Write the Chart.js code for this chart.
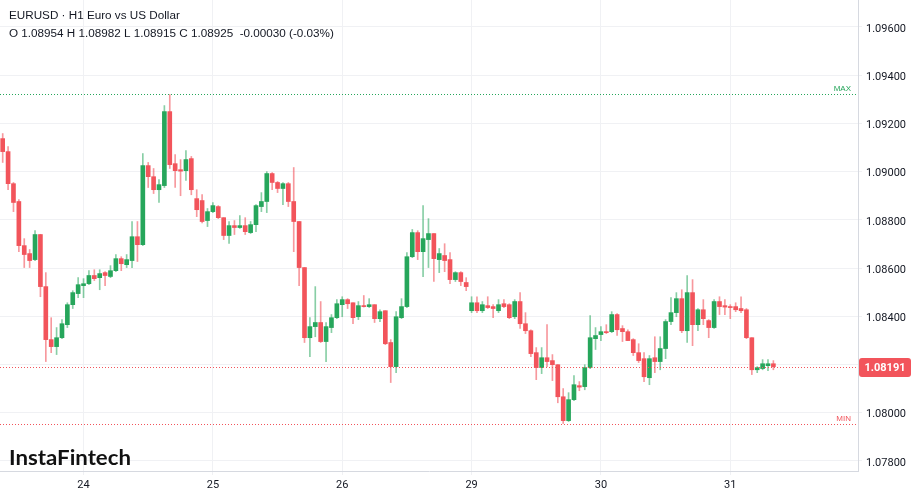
<!DOCTYPE html>
<html><head><meta charset="utf-8">
<script src="https://cdn.jsdelivr.net/npm/chart.js@4.4.1/dist/chart.umd.min.js"></script>
<style>html,body{margin:0;padding:0;background:#fff;}canvas{display:block}</style>
</head><body>
<canvas id="c" width="912" height="494" style="width:912px;height:494px"></canvas>
<script>
// ---- data (hourly candles, EURUSD H1) ----
const openP = [
1.09137,1.09083,1.08950,1.08876,1.08693,1.08660,1.08635,1.08739,1.08523,1.08303,
1.08274,1.08311,1.08365,1.08448,1.08494,1.08527,1.08535,1.08569,1.08560,1.08581,
1.08565,1.08589,1.08639,1.08614,1.08631,1.08730,1.08697,1.09025,1.08979,1.08925,
1.08942,1.09249,1.09033,1.09008,1.09004,1.09054,1.08888,1.08880,1.08797,1.08834,
1.08855,1.08809,1.08735,1.08776,1.08768,1.08776,1.08747,1.08780,1.08855,1.08876,
1.08992,1.08955,1.08930,1.08950,1.08876,1.08793,1.08602,1.08311,1.08357,1.08374,
1.08295,1.08353,1.08394,1.08448,1.08469,1.08456,1.08398,1.08444,1.08440,1.08448,
1.08390,1.08423,1.08291,1.08191,1.08394,1.08440,1.08647,1.08747,1.08668,1.08718,
1.08743,1.08635,1.08652,1.08635,1.08552,1.08581,1.08540,1.08423,1.08456,1.08423,
1.08444,1.08440,1.08423,1.08452,1.08448,1.08398,1.08461,1.08369,1.08340,1.08249,
1.08187,1.08228,1.08216,1.08199,1.08066,1.07967,1.08054,1.08112,1.08108,1.08187,
1.08307,1.08324,1.08336,1.08336,1.08407,1.08349,1.08336,1.08303,1.08249,1.08224,
1.08145,1.08228,1.08212,1.08266,1.08378,1.08415,1.08473,1.08340,1.08498,1.08365,
1.08427,1.08382,1.08353,1.08461,1.08444,1.08440,1.08440,1.08432,1.08427,1.08311,
1.08178,1.08183,1.08195,1.08203];
const highP = [
1.09158,1.09104,1.08955,1.08884,1.08722,1.08677,1.08755,1.08740,1.08581,1.08394,
1.08353,1.08386,1.08456,1.08506,1.08560,1.08556,1.08589,1.08593,1.08593,1.08585,
1.08610,1.08656,1.08647,1.08656,1.08793,1.08793,1.09075,1.09038,1.09013,1.08967,
1.09274,1.09320,1.09071,1.09050,1.09087,1.09063,1.08925,1.08905,1.08847,1.08872,
1.08859,1.08809,1.08793,1.08797,1.08818,1.08809,1.08793,1.08863,1.08913,1.09000,
1.08996,1.08959,1.08955,1.08955,1.09017,1.08793,1.08602,1.08394,1.08523,1.08461,
1.08374,1.08407,1.08469,1.08481,1.08473,1.08456,1.08461,1.08486,1.08473,1.08448,
1.08427,1.08423,1.08303,1.08419,1.08473,1.08664,1.08760,1.08755,1.08859,1.08805,
1.08743,1.08681,1.08701,1.08664,1.08585,1.08585,1.08560,1.08481,1.08481,1.08461,
1.08481,1.08448,1.08469,1.08469,1.08452,1.08469,1.08498,1.08415,1.08344,1.08270,
1.08270,1.08365,1.08241,1.08199,1.08100,1.08083,1.08154,1.08129,1.08199,1.08403,
1.08353,1.08357,1.08365,1.08419,1.08411,1.08361,1.08344,1.08307,1.08286,1.08249,
1.08237,1.08315,1.08315,1.08386,1.08477,1.08498,1.08510,1.08569,1.08552,1.08432,
1.08469,1.08386,1.08469,1.08481,1.08469,1.08448,1.08456,1.08481,1.08432,1.08311,
1.08191,1.08220,1.08220,1.08216];
const lowP = [
1.09038,1.08925,1.08834,1.08668,1.08602,1.08602,1.08631,1.08481,1.08212,1.08249,
1.08241,1.08307,1.08353,1.08432,1.08477,1.08477,1.08531,1.08548,1.08510,1.08527,
1.08560,1.08585,1.08589,1.08602,1.08602,1.08627,1.08693,1.08934,1.08909,1.08872,
1.08934,1.09013,1.08934,1.08900,1.08963,1.08904,1.08813,1.08787,1.08772,1.08830,
1.08805,1.08718,1.08702,1.08739,1.08764,1.08739,1.08743,1.08751,1.08834,1.08830,
1.08925,1.08913,1.08863,1.08855,1.08668,1.08527,1.08291,1.08232,1.08315,1.08291,
1.08212,1.08332,1.08390,1.08398,1.08432,1.08369,1.08386,1.08438,1.08436,1.08374,
1.08378,1.08282,1.08125,1.08166,1.08390,1.08436,1.08643,1.08635,1.08564,1.08602,
1.08544,1.08581,1.08585,1.08535,1.08544,1.08527,1.08506,1.08415,1.08415,1.08415,
1.08432,1.08394,1.08415,1.08436,1.08390,1.08390,1.08349,1.08328,1.08232,1.08137,
1.08162,1.08191,1.08133,1.08041,1.07955,1.07963,1.08050,1.08091,1.08095,1.08183,
1.08262,1.08299,1.08328,1.08332,1.08320,1.08295,1.08299,1.08237,1.08208,1.08129,
1.08116,1.08166,1.08178,1.08224,1.08365,1.08398,1.08332,1.08291,1.08278,1.08340,
1.08365,1.08311,1.08349,1.08407,1.08407,1.08390,1.08419,1.08415,1.08307,1.08158,
1.08166,1.08178,1.08174,1.08178];
const closeP = [
1.09083,1.08950,1.08872,1.08693,1.08656,1.08631,1.08739,1.08523,1.08303,1.08274,
1.08311,1.08369,1.08448,1.08498,1.08531,1.08535,1.08569,1.08556,1.08577,1.08569,
1.08589,1.08639,1.08618,1.08635,1.08730,1.08697,1.09025,1.08979,1.08925,1.08946,
1.09249,1.09029,1.09004,1.09002,1.09050,1.08925,1.08842,1.08793,1.08834,1.08859,
1.08809,1.08735,1.08776,1.08768,1.08776,1.08751,1.08780,1.08859,1.08876,1.08992,
1.08955,1.08930,1.08950,1.08876,1.08793,1.08602,1.08311,1.08357,1.08374,1.08295,
1.08357,1.08394,1.08452,1.08469,1.08452,1.08394,1.08444,1.08440,1.08448,1.08390,
1.08419,1.08286,1.08191,1.08398,1.08440,1.08647,1.08747,1.08668,1.08722,1.08743,
1.08639,1.08660,1.08631,1.08552,1.08581,1.08544,1.08523,1.08456,1.08423,1.08448,
1.08436,1.08432,1.08448,1.08440,1.08394,1.08461,1.08369,1.08340,1.08245,1.08187,
1.08228,1.08212,1.08199,1.08066,1.07967,1.08054,1.08116,1.08106,1.08187,1.08311,
1.08320,1.08336,1.08332,1.08407,1.08344,1.08336,1.08299,1.08249,1.08216,1.08149,
1.08224,1.08212,1.08266,1.08378,1.08415,1.08473,1.08340,1.08498,1.08365,1.08427,
1.08390,1.08353,1.08461,1.08440,1.08438,1.08436,1.08427,1.08423,1.08311,1.08178,
1.08187,1.08203,1.08203,1.08191];

const dayLabels = ['24','25','26','29','30','31'];
const dayStarts = [15, 39, 63, 87, 111, 135];
const yTicks = [1.078,1.080,1.082,1.084,1.086,1.088,1.090,1.092,1.094,1.096];
const lastPrice = 1.08191;
const maxPrice = 1.09320;
const minPrice = 1.07955;
const titleText = 'EURUSD · H1 Euro vs US Dollar';
const ohlcText = 'O 1.08954 H 1.08982 L 1.08915 C 1.08925  -0.00030 (-0.03%)';
const logoText = 'InstaFintech';

// ---- styles ----
const UP = '#26a65b', DOWN = '#f2545b';
const UP_WICK = 'rgba(38,166,91,0.55)', DOWN_WICK = 'rgba(242,84,91,0.6)';
const GRID = '#f0f1f4', AXIS = '#d6d9e0', TXT = '#131722';

const isUp = openP.map((o,i)=>closeP[i]>=o);
const wickData = highP.map((h,i)=>({x:i, y:[lowP[i], h]}));
const bodyData = openP.map((o,i)=>({x:i, y:[o, closeP[i]]}));

const overlay = {
  id:'overlay',
  afterDatasetsDraw(chart){
    const {ctx, chartArea:a, scales:{y}} = chart;
    function dotted(v,color){
      const py = Math.round(y.getPixelForValue(v));
      ctx.save(); ctx.fillStyle=color;
      for (let x = Math.round(a.left); x < a.right; x += 3) ctx.fillRect(x, py, 1, 1);
      ctx.restore();
      return py;
    }
    const pMax = dotted(maxPrice, UP);
    const pMin = dotted(minPrice, DOWN);
    dotted(lastPrice, DOWN);
    ctx.save();
    ctx.font = '8px "Liberation Sans", Arial, sans-serif';
    ctx.textAlign='right'; ctx.textBaseline='alphabetic';
    ctx.fillStyle = UP; ctx.fillText('MAX', a.right-7, pMax-3);
    ctx.fillStyle = DOWN; ctx.fillText('MIN', a.right-7, pMin-3);
    ctx.restore();
  },
  afterDraw(chart){
    const {ctx, chartArea:a, scales:{y}} = chart;
    ctx.save();
    ctx.fillStyle = TXT;
    ctx.font = '11.7px "Liberation Sans", Arial, sans-serif';
    ctx.textAlign='left'; ctx.textBaseline='alphabetic';
    ctx.fillText(titleText, 9, 19);
    ctx.fillText(ohlcText, 9, 37);
    // logo
    ctx.font = 'bold 21px Lato, "Open Sans", sans-serif';
    const w = ctx.measureText(logoText).width;
    ctx.translate(9, 465); ctx.scale(122/w, 1);
    ctx.fillStyle = '#111';
    ctx.fillText(logoText, 0, 0);
    ctx.restore();
    // last price box
    const py = Math.round(y.getPixelForValue(lastPrice));
    ctx.save();
    const bx = a.right+1, bw = 912-bx-1, bh = 19, by = py-9;
    ctx.fillStyle = DOWN;
    ctx.beginPath();
    if (ctx.roundRect) ctx.roundRect(bx, by, bw, bh, 3); else ctx.rect(bx,by,bw,bh);
    ctx.fill();
    ctx.fillStyle='#fff';
    ctx.font='bold 11px Roboto, "Liberation Sans", sans-serif';
    ctx.textAlign='center'; ctx.textBaseline='middle';
    ctx.fillText(lastPrice.toFixed(5), bx+bw/2, py+1);
    ctx.restore();
  }
};

new Chart(document.getElementById('c'), {
  type:'bar',
  data:{
    datasets:[
      {label:'wick', data:wickData, barThickness:1, grouped:false,
       backgroundColor: isUp.map(u=>u?UP_WICK:DOWN_WICK), borderWidth:0, order:2},
      {label:'body', data:bodyData, barThickness:4, grouped:false, minBarLength:1,
       backgroundColor: isUp.map(u=>u?UP:DOWN), borderWidth:0, order:1}
    ]
  },
  options:{
    responsive:false, animation:false, devicePixelRatio:1,
    layout:{padding:0},
    plugins:{legend:{display:false}, tooltip:{enabled:false}},
    scales:{
      x:{type:'linear', min:-0.5, max:158.7, offset:false,
         afterBuildTicks(s){ s.ticks = dayStarts.map(v=>({value:v})); },
         afterFit(s){ s.height = 23; s.paddingLeft = 0; s.paddingRight = 0; },
         ticks:{autoSkip:false, maxRotation:0, padding:4, color:TXT,
                font:{family:'Roboto, "Liberation Sans", sans-serif', size:11},
                callback:(v,i)=>dayLabels[i]},
         grid:{color:GRID, tickLength:4, drawTicks:true, offset:false},
         border:{display:true, color:AXIS}},
      y:{type:'linear', position:'right', min:1.07758, max:1.09712,
         afterBuildTicks(s){ s.ticks = yTicks.map(v=>({value:v})); },
         afterFit(s){ s.width = 54; s.paddingTop = 0; s.paddingBottom = 0; },
         ticks:{padding:4, labelOffset:2, color:TXT, font:{family:'Roboto, "Liberation Sans", sans-serif', size:11},
                callback:v=>Number(v).toFixed(5)},
         grid:{color:GRID, tickLength:4},
         border:{display:true, color:AXIS}}
    }
  },
  plugins:[overlay]
});
</script>
</body></html>
